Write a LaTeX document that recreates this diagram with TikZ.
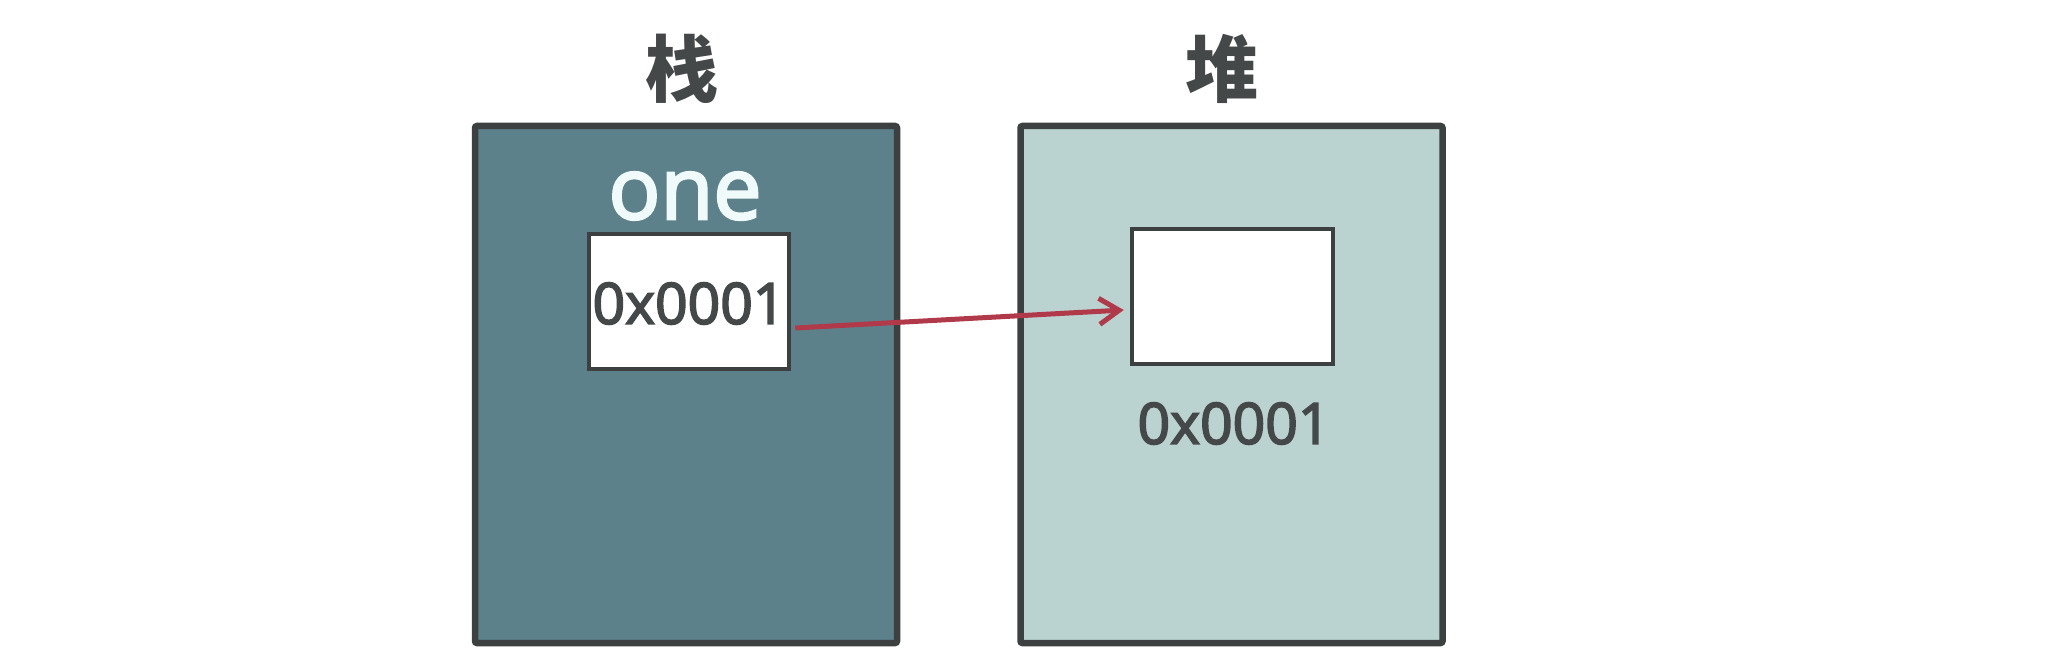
\documentclass[tikz,border=0pt]{standalone}
\usepackage{fontspec}
\setmainfont{Open Sans}
\newfontfamily\semi{Open Sans}[FakeBold=3]
\newfontfamily\cjk{Noto Sans CJK SC}
\usetikzlibrary{arrows.meta,calc}
\definecolor{stackfill}{HTML}{5C818A}
\definecolor{heapfill}{HTML}{BAD3D0}
\definecolor{edge}{HTML}{3C4040}
\definecolor{txt}{HTML}{444848}
\definecolor{ptrred}{HTML}{B03A4A}
\definecolor{onecol}{HTML}{F0FAFA}
\begin{document}
\begin{tikzpicture}[x=1pt,y=-1pt,
  outerbox/.style={draw=edge, line width=6.5pt, rounded corners=2pt, minimum width=422pt, minimum height=517pt, inner sep=0pt},
  cell/.style={draw=edge, line width=4.5pt, fill=white, minimum width=200pt, minimum height=135pt, inner sep=0pt},
  lab/.style={inner sep=0pt, text=txt},
  ptr/.style={draw=ptrred, line width=5pt, -{Straight Barb[length=20pt,width=26pt,line width=5pt]}}]
\useasboundingbox (0,0) rectangle (2060,663);
\node[outerbox, fill=stackfill] (stack) at (686,384.5) {};
\node[outerbox, fill=heapfill] (heap) at (1231.5,384.5) {};
\node[lab, font=\cjk\fontsize{73}{73}\selectfont\bfseries] (stt) at (681.5,69) {栈};
\node[lab, font=\cjk\fontsize{73}{73}\selectfont\bfseries] (htt) at (1221.5,69) {堆};
\node[lab, text=onecol, font=\semi\fontsize{86}{86}\selectfont] (one) at (685,196) {one};
\node[cell] (lbox) at (689,301.5) {};
\node[cell, minimum width=201pt] (rbox) at (1232.5,296.5) {};
\node[lab, font=\semi\fontsize{57}{57}\selectfont] (lval) at (689,303.5) {0x0001};
\node[lab, font=\semi\fontsize{57}{57}\selectfont] (rval) at (1234,423.5) {0x0001};
\draw[ptr] ($(lbox.east)+(4,26.5)$) -- ($(rbox.west)+(-6,13.5)$);
\end{tikzpicture}
\end{document}
